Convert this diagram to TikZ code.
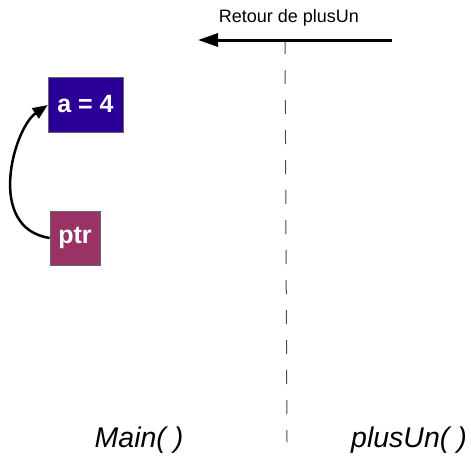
\documentclass[tikz,border=0pt]{standalone}
\usepackage{fontspec}
\setmainfont{Liberation Sans}
\usetikzlibrary{arrows.meta}
\definecolor{valblue}{RGB}{42,0,153}
\definecolor{ptrplum}{RGB}{153,51,102}

\begin{document}
\begin{tikzpicture}[x=1pt, y=-1pt,
  cell/.style={draw=black!60, line width=0.6pt, text=white, inner sep=0pt,
    font=\bfseries\fontsize{25}{28}\selectfont},
  frame/.style={font=\itshape\fontsize{28.5}{32}\selectfont}]
  \useasboundingbox (0,0) rectangle (471,455);

  % Variables on the stack of Main
  \node[cell, fill=valblue, minimum width=75pt, minimum height=55pt] (val) at (85.5,104.5) {a = 4};
  \node[cell, fill=ptrplum, minimum width=50pt, minimum height=54pt] (ptr) at (75,238) {ptr};

  % Pointer to a
  \draw[line width=2.5pt, -{Triangle[length=15pt, width=12pt]}]
    (ptr.west) .. controls (-15,228) and (14,128) .. (val.west |- 0,105);

  % Separation between the two frames
  \coordinate (sepTop) at (285,40);
  \coordinate (sepBot) at (287,442);
  \draw[black!70, line width=1pt, dash pattern=on 14pt off 16pt] (sepTop) -- (sepBot);

  % Return arrow
  \coordinate (retFrom) at (392,40);
  \coordinate (retTo) at (198,40);
  \draw[line width=3pt, -{Triangle[length=20pt, width=13pt]}] (retFrom) -- (retTo);
  \node[font=\fontsize{18}{21}\selectfont] (retLabel) at (289,18) {Retour de plusUn};

  % Frame names
  \node[frame] (mainName) at (139,440) {Main( )};
  \node[frame] (plusName) at (409,440) {plusUn( )};
\end{tikzpicture}
\end{document}
